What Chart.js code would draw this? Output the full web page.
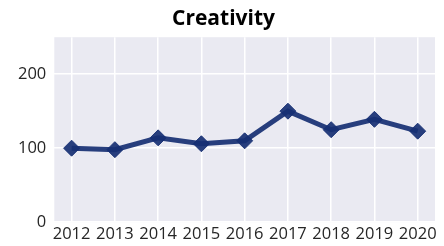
<!DOCTYPE html>
<html>
<head>
<meta charset="utf-8">
<script src="https://cdn.jsdelivr.net/npm/chart.js@4"></script>
<style>
  html, body { margin: 0; padding: 0; background: #fff; }
  #wrap { width: 444px; height: 246px; }
</style>
</head>
<body>
<div id="wrap"><canvas id="myChart" width="444" height="246"></canvas></div>
<script>
// data
var years = [2012, 2013, 2014, 2015, 2016, 2017, 2018, 2019, 2020]
var creativity = [100, 98, 114, 106, 110, 150, 125, 139, 123]
var yTicks = [0, 100, 200]

var navy = 'rgba(22, 47, 115, 0.92)'

// grey panel behind the plot, seaborn style
var panelBg = {
  id: 'panelBg',
  beforeDraw: function (chart) {
    var a = chart.chartArea
    var c = chart.ctx
    c.save()
    c.fillStyle = '#EAEAF2'
    c.fillRect(a.left, a.top, a.right - a.left, a.bottom - a.top)
    c.restore()
  }
}

var ctx = document.getElementById('myChart').getContext('2d')
new Chart(ctx, {
  type: 'line',
  data: {
    datasets: [{
      label: 'Creativity',
      data: years.map(function (y, i) { return { x: y, y: creativity[i] } }),
      borderColor: navy,
      backgroundColor: navy,
      borderWidth: 5,
      pointStyle: 'rectRot',
      pointRadius: 8,
      pointHoverRadius: 8,
      pointBorderWidth: 1,
      pointBorderColor: navy,
      pointBackgroundColor: navy,
      tension: 0
    }]
  },
  options: {
    responsive: false,
    animation: false,
    layout: { padding: { left: 10, right: 7, top: 0, bottom: 0 } },
    plugins: {
      legend: { display: false },
      tooltip: { enabled: false },
      title: {
        display: true,
        text: 'Creativity',
        color: '#000',
        font: { family: 'Open Sans', size: 21, weight: 'bold' },
        padding: { top: 6, bottom: 6 }
      }
    },
    scales: {
      x: {
        type: 'linear',
        min: 2011.6,
        max: 2020.4,
        afterBuildTicks: function (scale) {
          scale.ticks = years.map(function (v) { return { value: v } })
        },
        grid: { color: '#fff', lineWidth: 1.5, drawTicks: false },
        border: { display: false },
        ticks: {
          color: '#262626',
          padding: 2,
          maxRotation: 0,
          autoSkip: false,
          font: { family: 'Open Sans', size: 16.5 },
          callback: function (v) { return String(v) }
        }
      },
      y: {
        min: 0,
        max: 250,
        afterBuildTicks: function (scale) {
          scale.ticks = yTicks.map(function (v) { return { value: v } })
        },
        grid: { color: '#fff', lineWidth: 1.5, drawTicks: false },
        border: { display: false },
        ticks: {
          color: '#262626',
          padding: 8,
          font: { family: 'Open Sans', size: 16.5 }
        }
      }
    }
  },
  plugins: [panelBg]
})
</script>
</body>
</html>
